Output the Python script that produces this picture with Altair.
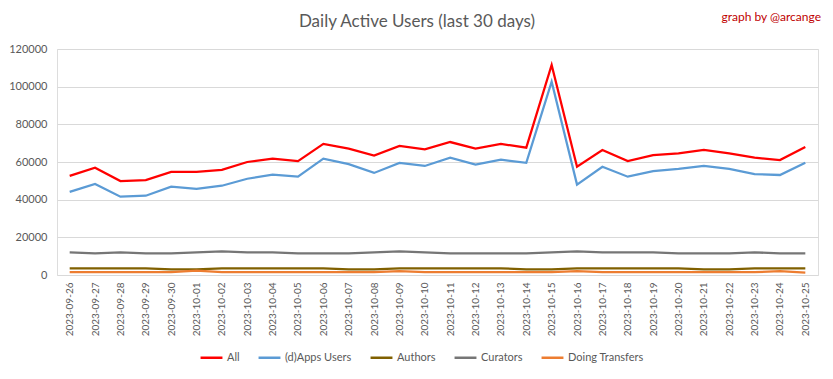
import altair as alt
import pandas as pd

dates = ["2023-09-26", "2023-09-27", "2023-09-28", "2023-09-29", "2023-09-30",
         "2023-10-01", "2023-10-02", "2023-10-03", "2023-10-04", "2023-10-05",
         "2023-10-06", "2023-10-07", "2023-10-08", "2023-10-09", "2023-10-10",
         "2023-10-11", "2023-10-12", "2023-10-13", "2023-10-14", "2023-10-15",
         "2023-10-16", "2023-10-17", "2023-10-18", "2023-10-19", "2023-10-20",
         "2023-10-21", "2023-10-22", "2023-10-23", "2023-10-24", "2023-10-25"]

all_users = [52600, 57000, 49900, 50400, 54700, 54700, 55800, 60000, 61800, 60500,
             69600, 67100, 63400, 68500, 66700, 70600, 67100, 69600, 67600, 111500,
             57500, 66400, 60500, 63700, 64600, 66400, 64600, 62300, 61000, 68000]
apps_users = [44100, 48300, 41600, 42100, 46900, 45700, 47400, 51100, 53300, 52200,
              61800, 58900, 54200, 59500, 57900, 62300, 58600, 61200, 59600, 102600,
              48000, 57500, 52200, 55200, 56300, 57900, 56300, 53600, 53100, 59600]
authors = [3500, 3500, 3500, 3500, 3000, 3000, 3500, 3500, 3500, 3500,
           3500, 3000, 3000, 3500, 3500, 3500, 3500, 3500, 3000, 3000,
           3500, 3500, 3500, 3500, 3500, 3000, 3000, 3500, 3500, 3500]
curators = [12000, 11500, 12000, 11500, 11500, 12000, 12500, 12000, 12000, 11500,
            11500, 11500, 12000, 12500, 12000, 11500, 11500, 11500, 11500, 12000,
            12500, 12000, 12000, 12000, 11500, 11500, 11500, 12000, 11500, 11500]
transfers = [1500, 1500, 1500, 1500, 1500, 2300, 1500, 1500, 1500, 1500,
             1500, 1500, 1500, 2000, 1500, 1500, 1500, 1500, 1500, 1500,
             2000, 1500, 1500, 1500, 1500, 1500, 1500, 1500, 2000, 1300]

series_names = ["All", "(d)Apps Users", "Authors", "Curators", "Doing Transfers"]
series_colors = ["#ff0000", "#5b9bd5", "#806000", "#767676", "#ed7d31"]
y_ticks = [0, 20000, 40000, 60000, 80000, 100000, 120000]

title_text = "Daily Active Users (last 30 days)"
credit_text = "graph by @arcange"

rows = []
for name, vals in zip(series_names, [all_users, apps_users, authors, curators, transfers]):
    for d, v in zip(dates, vals):
        rows.append({"date": d, "series": name, "value": v, "order": series_names.index(name)})
df = pd.DataFrame(rows)

FONT = "Lato"
GRAY = "#595959"

lines = alt.Chart(df).mark_line(strokeWidth=2.25).encode(
    x=alt.X("date:O", sort=dates,
            scale=alt.Scale(type="point", padding=0.5),
            axis=alt.Axis(title=None, labelAngle=-90, labelFontSize=10, labelColor=GRAY,
                          labelFont=FONT, ticks=False, domain=False, grid=False,
                          labelPadding=7)),
    y=alt.Y("value:Q", scale=alt.Scale(domain=[0, 120000], nice=False),
            axis=alt.Axis(title=None, values=y_ticks, format="d", labelFontSize=11,
                          labelColor=GRAY, labelFont=FONT, ticks=False, domain=False,
                          gridColor="#d9d9d9", labelPadding=10)),
    color=alt.Color("series:N",
                    scale=alt.Scale(domain=series_names, range=series_colors),
                    sort=series_names,
                    legend=alt.Legend(title=None, orient="none", legendX=142, legendY=296,
                                      direction="horizontal", columns=5,
                                      symbolType="stroke", symbolSize=480,
                                      symbolStrokeWidth=2.5, labelFontSize=11,
                                      labelColor=GRAY, labelFont=FONT,
                                      columnPadding=13, labelOffset=3)),
    order=alt.Order("order:Q"),
)

title = alt.Chart(pd.DataFrame({"t": [title_text]})).mark_text(
    align="center", baseline="middle", font=FONT, fontSize=17, color=GRAY
).encode(x=alt.value(360), y=alt.value(-27), text="t:N")

credit = alt.Chart(pd.DataFrame({"t": [credit_text]})).mark_text(
    align="right", baseline="middle", font=FONT, fontSize=12, color="#c00000"
).encode(x=alt.value(764), y=alt.value(-32), text="t:N")

chart = alt.layer(lines, title, credit).properties(
    width=761, height=226,
    autosize=alt.AutoSizeParams(type="none"),
    padding={"left": 49, "top": 41, "right": 7, "bottom": 96},
).configure_view(stroke=None).configure(background="white")

chart.save("out.html", embed_options={"renderer": "svg", "actions": False})
